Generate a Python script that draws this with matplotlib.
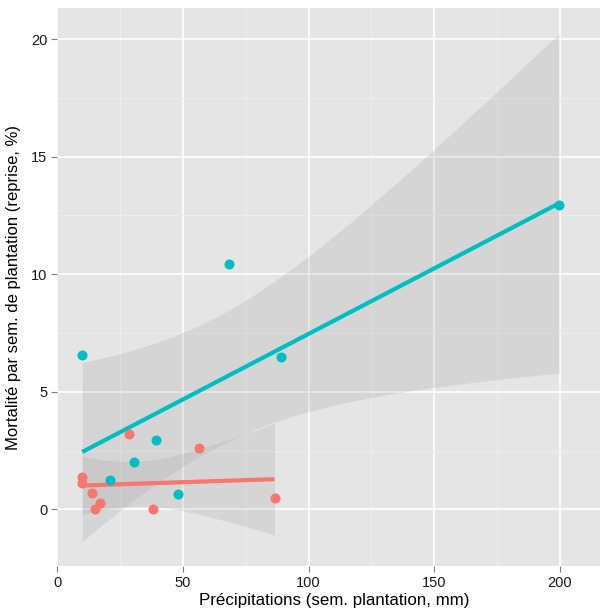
import numpy as np
import matplotlib
matplotlib.use("Agg")
from matplotlib import pyplot as plt

plt.rcParams["font.family"] = ["Liberation Sans", "DejaVu Sans"]

# group 1 (red)
x_red = [10, 10, 14, 15, 17, 28.5, 38, 56.5, 86.5]
y_red = [1.39, 1.13, 0.71, 0.0, 0.28, 3.2, 0.0, 2.59, 0.47]
# group 2 (cyan)
x_cyan = [10, 21, 30.5, 39.5, 48, 68.5, 89, 199.6]
y_cyan = [6.56, 1.26, 2.02, 2.93, 0.65, 10.43, 6.49, 12.94]

colors = ["#F8766D", "#00BFC4"]
x_label = "Précipitations (sem. plantation, mm)"
y_label = "Mortalité par sem. de plantation (reprise, %)"

# t quantile (0.975) by degrees of freedom
t975 = {6: 2.4469, 7: 2.3646}


def smooth(x, y, n=80):
    x = np.asarray(x, float)
    y = np.asarray(y, float)
    b, a = np.polyfit(x, y, 1)
    resid = y - (a + b * x)
    df = len(x) - 2
    s = np.sqrt(np.sum(resid ** 2) / df)
    xs = np.linspace(x.min(), x.max(), n)
    sxx = np.sum((x - x.mean()) ** 2)
    se = s * np.sqrt(1 / len(x) + (xs - x.mean()) ** 2 / sxx)
    fit = a + b * xs
    return xs, fit, fit - t975[df] * se, fit + t975[df] * se


fig = plt.figure(figsize=(6, 6.1), dpi=100)
ax = fig.add_axes([57 / 600, 44 / 610, 555 / 600, 558 / 610])
ax.set_facecolor("#E5E5E5")

for xx, yy, c in [(x_red, y_red, colors[0]), (x_cyan, y_cyan, colors[1])]:
    xs, fit, lo, hi = smooth(xx, yy)
    ax.fill_between(xs, lo, hi, color="#999999", alpha=0.2, lw=0, zorder=2)
    ax.plot(xs, fit, color=c, lw=3, zorder=3, solid_capstyle="butt")
    ax.scatter(xx, yy, s=52, color=c, lw=0, zorder=4)

ax.set_xlim(0, 555 / 2.515)
ax.set_ylim(-2.41, 21.32)
ax.set_xticks([0, 50, 100, 150, 200])
ax.set_yticks([0, 5, 10, 15, 20])
ax.set_xticks([25, 75, 125, 175], minor=True)
ax.set_yticks([2.5, 7.5, 12.5, 17.5], minor=True)
ax.grid(which="major", color="white", lw=1.2)
ax.grid(which="minor", color="#EFEFEF", lw=0.6)
ax.set_axisbelow(True)
for sp in ax.spines.values():
    sp.set_visible(False)
ax.tick_params(which="major", length=4, width=0.8, color="#7F7F7F",
               labelsize=10.5, labelcolor="#1A1A1A", pad=3)
ax.tick_params(which="minor", length=0)

ax.set_xlabel(x_label, fontsize=12.2, labelpad=2)
ax.set_ylabel(y_label, fontsize=12, labelpad=7)

fig.savefig("out.png", dpi=100)
